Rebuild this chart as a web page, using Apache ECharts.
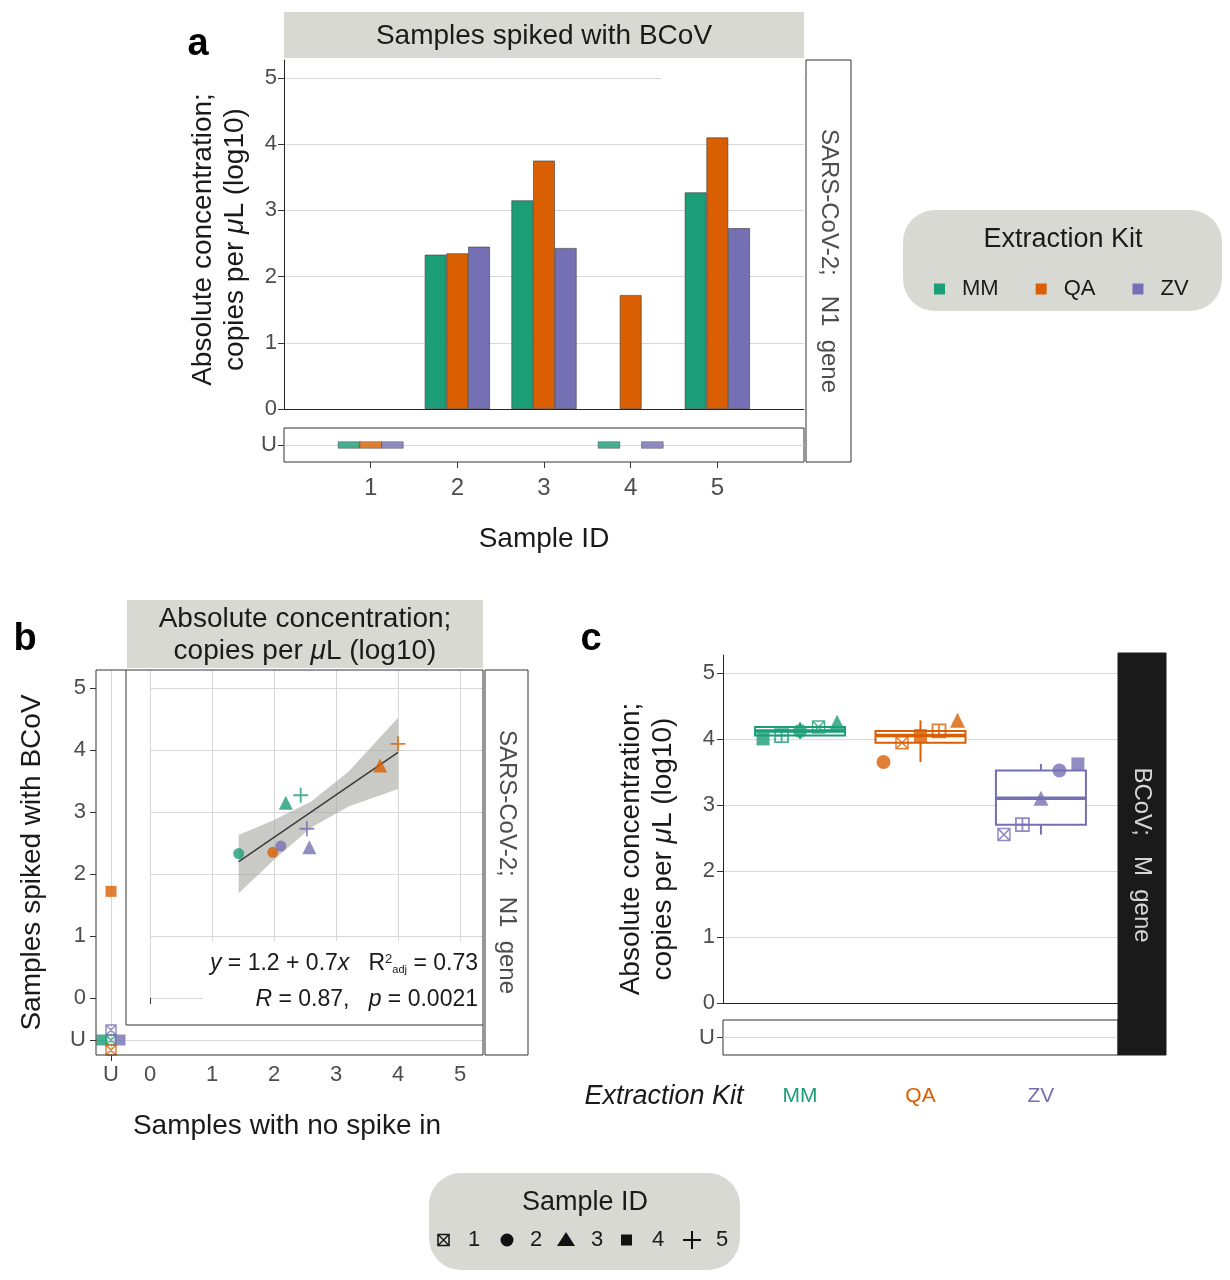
<!DOCTYPE html>
<html>
<head>
<meta charset="utf-8">
<script src="https://cdn.jsdelivr.net/npm/echarts@6.0.0/dist/echarts.min.js"></script>
<style>
html,body{margin:0;padding:0;background:#fff;}
#chart{width:1230px;height:1280px;}
</style>
</head>
<body>
<div id="chart"></div>
<script>
// ---------------- data ----------------
const samples = ['1', '2', '3', '4', '5'];
const kits = ['MM', 'QA', 'ZV'];
const yTicks = [0, 1, 2, 3, 4, 5];
// SARS-CoV-2 N1 gene, log10 copies/uL ('U' = undetected)
const spikedMM = ['U', 2.33, 3.15, 'U', 3.27];
const spikedQA = ['U', 2.35, 3.75, 1.72, 4.10];
const spikedZV = ['U', 2.45, 2.43, 'U', 2.73];
const nospikeMM = ['U', 1.43, 2.19, 'U', 2.43];
const nospikeQA = ['U', 1.98, 3.71, 'U', 4.00];
const nospikeZV = ['U', 2.11, 2.57, 'U', 2.53];
// regression line and confidence band
const fitX = [1.43, 4.00];
const fitY = [2.20, 3.96];
const bandX = [1.43, 2.00, 2.60, 3.20, 4.00];
const bandLo = [1.69, 2.23, 2.75, 3.09, 3.37];
const bandHi = [2.63, 2.87, 3.17, 3.65, 4.52];
// BCoV M gene, spiked samples
const bcovMM = [4.18, 4.12, 4.25, 4.00, 4.05];
const bcovQA = [3.94, 3.65, 4.28, 4.05, 4.12];
const bcovZV = [2.55, 3.52, 3.10, 3.62, 2.70];

const spiked = [spikedMM, spikedQA, spikedZV];
const nospike = [nospikeMM, nospikeQA, nospikeZV];
const bcov = [bcovMM, bcovQA, bcovZV];

// ---------------- styles ----------------
const FONT = '"Liberation Sans", Arial, Helvetica, sans-serif';
const kitColors = ['#1b9e77', '#d95f02', '#7570b3'];
const STRIP = '#d9d9d4';
const GRID = '#d8d8d8';
const TICKC = '#333333';
const LABC = '#4d4d4d';
const P_CROSSBOX = 'path://M0,0L10,0L10,10L0,10ZM0,0L10,10M10,0L0,10';
const P_BOXPLUS = 'path://M0,0L10,0L10,10L0,10ZM5,0L5,10M0,5L10,5';
const P_PLUS = 'path://M5,0L5,10M0,5L10,5';
const sizeB = {'1': 10, '2': 11, '3': 14, '4': 11, '5': 15};
const sizeC = {'1': 12, '2': 14, '3': 15, '4': 13, '5': 13};
function symStyle(s, color, variant, sizes) {
  const base = {symbolSize: sizes[s]};
  if (s === '1') return Object.assign(base, {symbol: P_CROSSBOX, itemStyle: {color: 'rgba(255,255,255,0)', borderColor: color, borderWidth: 1.5}});
  if (s === '2') return Object.assign(base, {symbol: 'circle', itemStyle: {color: color}});
  if (s === '3') return Object.assign(base, {symbol: 'triangle', itemStyle: {color: color}});
  if (s === '4') return Object.assign(base, {symbol: 'rect', itemStyle: {color: color}});
  return Object.assign(base, {symbol: variant === 'box' ? P_BOXPLUS : P_PLUS, itemStyle: {color: 'rgba(255,255,255,0)', borderColor: color, borderWidth: 1.8}});
}
// jitter of the undetected/undetected points in panel b corner
const cornerJitter = {'MM1': [0, 0], 'QA1': [0, 10], 'ZV1': [0, -10], 'MM4': [-9, 0], 'QA4': [0, 0], 'ZV4': [9, 0]};
const barW = 21.7;
const dodgeC = 18.5;

function ML(data) {
  return {silent: true, symbol: ['none', 'none'], label: {show: false}, animation: false, z: 1,
    lineStyle: {color: GRID, width: 1, type: 'solid', opacity: 1}, emphasis: {disabled: true}, data: data};
}
const tickStyle = {show: true, length: 6, lineStyle: {color: TICKC, width: 1}};
const labStyle = {fontSize: 22, color: LABC, fontFamily: FONT};
const titleRich = {i: {fontStyle: 'italic', fontSize: 28, fontFamily: FONT, color: '#1a1a1a'}};

// ---------------- grids ----------------
const grids = [
  {left: 284, top: 60, width: 520, height: 349},                 // 0 a main
  {left: 284, top: 428, width: 520, height: 34, show: true, borderColor: '#333', borderWidth: 1, backgroundColor: 'rgba(0,0,0,0)'}, // 1 a U row
  {left: 150, top: 670, width: 333, height: 328},                // 2 b main
  {left: 96, top: 670, width: 30, height: 355},                  // 3 b U column
  {left: 96, top: 1025, width: 30, height: 30},                  // 4 b corner
  {left: 126, top: 1025, width: 357, height: 30},                // 5 b U row
  {left: 723, top: 655, width: 395, height: 348},                // 6 c main
  {left: 723, top: 1020, width: 395, height: 35, show: true, borderColor: '#333', borderWidth: 1, backgroundColor: 'rgba(0,0,0,0)'} // 7 c U row
].map(g => Object.assign({outerBoundsMode: 'none', containLabel: false}, g));

const xAxes = [
  {gridIndex: 0, type: 'value', min: 0, max: 6, axisLine: {show: true, onZero: false, lineStyle: {color: '#222', width: 1}},
    axisTick: {show: false}, axisLabel: {show: false}, splitLine: {show: false}},
  {gridIndex: 1, type: 'value', min: 0, max: 6, axisLine: {show: false},
    axisTick: Object.assign({}, tickStyle, {customValues: samples.map(Number)}),
    axisLabel: {customValues: samples.map(Number), fontSize: 24, color: LABC, fontFamily: FONT, margin: 14},
    splitLine: {show: false},
    name: 'Sample ID', nameLocation: 'middle', nameGap: 63, nameTextStyle: {fontSize: 28, color: '#1a1a1a', fontFamily: FONT}},
  {gridIndex: 2, type: 'value', min: 0, max: 5.37, offset: 57, axisLine: {show: false},
    axisTick: Object.assign({}, tickStyle, {customValues: yTicks}),
    axisLabel: Object.assign({customValues: yTicks, margin: 9}, labStyle),
    splitLine: {show: true, lineStyle: {color: GRID, width: 1}},
    name: 'Samples with no spike in', nameLocation: 'middle', nameGap: 57,
    nameTextStyle: {fontSize: 28, color: '#1a1a1a', fontFamily: FONT, padding: [0, 59, 0, 0]}},
  {gridIndex: 3, type: 'category', data: ['U'], show: false},
  {gridIndex: 4, type: 'category', data: ['U'], axisLine: {show: false},
    axisTick: Object.assign({alignWithLabel: true}, tickStyle), axisLabel: Object.assign({margin: 9}, labStyle)},
  {gridIndex: 5, type: 'value', min: 0, max: 5.37, show: false},
  {gridIndex: 6, type: 'value', min: 0.36, max: 3.64, axisLine: {show: true, onZero: false, lineStyle: {color: '#222', width: 1}},
    axisTick: {show: false}, axisLabel: {show: false}, splitLine: {show: false}},
  {gridIndex: 7, type: 'value', min: 0.36, max: 3.64, axisLine: {show: false}, axisTick: {show: false, customValues: [1, 2, 3]},
    splitLine: {show: false},
    axisLabel: {customValues: [1, 2, 3], margin: 31, fontSize: 21, fontFamily: FONT,
      formatter: v => '{k' + v + '|' + kits[v - 1] + '}',
      rich: {k1: {color: kitColors[0], fontSize: 21, fontFamily: FONT}, k2: {color: kitColors[1], fontSize: 21, fontFamily: FONT}, k3: {color: kitColors[2], fontSize: 21, fontFamily: FONT}}}}
];
const yAxes = [
  {gridIndex: 0, type: 'value', min: 0, max: 5.27, axisLine: {show: true, lineStyle: {color: '#222', width: 1}},
    axisTick: Object.assign({}, tickStyle, {customValues: yTicks}),
    axisLabel: Object.assign({customValues: yTicks, margin: 7}, labStyle),
    splitLine: {show: true, lineStyle: {color: GRID, width: 1}},
    name: 'Absolute concentration;\ncopies per {i|μ}L (log10)', nameLocation: 'middle', nameGap: 33,
    nameTextStyle: {fontSize: 28, lineHeight: 32, color: '#1a1a1a', fontFamily: FONT, rich: titleRich, padding: [0, 10, 0, 0]}},
  {gridIndex: 1, type: 'category', data: ['U'], axisLine: {show: false},
    axisTick: Object.assign({alignWithLabel: true}, tickStyle), axisLabel: Object.assign({margin: 7}, labStyle)},
  {gridIndex: 2, type: 'value', min: 0, max: 5.29, axisLine: {show: false}, axisTick: {show: false, customValues: yTicks},
    axisLabel: {show: false}, splitLine: {show: true, lineStyle: {color: GRID, width: 1}}},
  {gridIndex: 3, type: 'value', min: -0.435, max: 5.29, axisLine: {show: false},
    axisTick: Object.assign({}, tickStyle, {customValues: yTicks}),
    axisLabel: Object.assign({customValues: yTicks, margin: 10}, labStyle),
    splitLine: {show: false},
    name: 'Samples spiked with BCoV', nameLocation: 'middle', nameGap: 50,
    nameTextStyle: {fontSize: 28, color: '#1a1a1a', fontFamily: FONT, padding: [0, 30, 0, 0]}},
  {gridIndex: 4, type: 'category', data: ['U'], axisLine: {show: false},
    axisTick: Object.assign({alignWithLabel: true}, tickStyle), axisLabel: Object.assign({margin: 10}, labStyle)},
  {gridIndex: 5, type: 'category', data: ['U'], show: false},
  {gridIndex: 6, type: 'value', min: 0, max: 5.27, axisLine: {show: true, lineStyle: {color: '#222', width: 1}},
    axisTick: Object.assign({}, tickStyle, {customValues: yTicks}),
    axisLabel: Object.assign({customValues: yTicks, margin: 8}, labStyle),
    splitLine: {show: true, lineStyle: {color: GRID, width: 1}},
    name: 'Absolute concentration;\ncopies per {i|μ}L (log10)', nameLocation: 'middle', nameGap: 44,
    nameTextStyle: {fontSize: 28, lineHeight: 32, color: '#1a1a1a', fontFamily: FONT, rich: titleRich, padding: [0, 40, 0, 0]}},
  {gridIndex: 7, type: 'category', data: ['U'], axisLine: {show: false},
    axisTick: Object.assign({alignWithLabel: true}, tickStyle), axisLabel: Object.assign({margin: 8}, labStyle)}
];

// ---------------- series ----------------
const series = [];
// panel a: bars for detected values
kits.forEach((k, ki) => {
  series.push({name: k, type: 'bar', xAxisIndex: 0, yAxisIndex: 0, barWidth: barW, barGap: '0%', z: 3,
    itemStyle: {color: kitColors[ki], borderColor: '#3a3a3a', borderWidth: 0.6},
    data: samples.map((s, i) => spiked[ki][i] === 'U' ? null : [Number(s), spiked[ki][i]]).filter(d => d)});
});
// panel a: undetected row
series.push({type: 'scatter', xAxisIndex: 1, yAxisIndex: 1, data: [], silent: true, z: 1, markLine: ML([{yAxis: 'U'}])});
kits.forEach((k, ki) => {
  series.push({name: k, type: 'scatter', xAxisIndex: 1, yAxisIndex: 1, symbol: 'rect', symbolSize: [barW, 6.5],
    symbolOffset: [(ki - 1) * barW, 0], z: 3,
    itemStyle: {color: kitColors[ki], borderColor: '#444', borderWidth: 0.5},
    data: samples.map((s, i) => spiked[ki][i] === 'U' ? [Number(s), 'U'] : null).filter(d => d)});
});
// panel b: confidence band + fit line
series.push({type: 'custom', xAxisIndex: 2, yAxisIndex: 2, silent: true, z: 2,
  data: bandX.map((x, i) => [x, bandLo[i], bandHi[i]]), encode: {x: 0, y: [1, 2]},
  renderItem: (params, api) => {
    if (params.dataIndex !== 0) return null;
    const pts = bandX.map((x, i) => api.coord([x, bandHi[i]]));
    for (let i = bandX.length - 1; i >= 0; i--) pts.push(api.coord([bandX[i], bandLo[i]]));
    return {type: 'polygon', shape: {points: pts}, style: {fill: 'rgba(165,165,160,0.6)'}};
  }});
series.push({type: 'line', xAxisIndex: 2, yAxisIndex: 2, silent: true, z: 3, symbol: 'none',
  lineStyle: {color: '#3a3a3a', width: 1.5}, data: fitX.map((x, i) => [x, fitY[i]])});
// panel b: gridlines for U rows/columns
series.push({type: 'scatter', xAxisIndex: 3, yAxisIndex: 3, data: [], silent: true, z: 1, markLine: ML([{xAxis: 'U'}])});
series.push({type: 'scatter', xAxisIndex: 4, yAxisIndex: 4, data: [], silent: true, z: 1, markLine: ML([{xAxis: 'U'}, {yAxis: 'U'}])});
series.push({type: 'scatter', xAxisIndex: 5, yAxisIndex: 5, data: [], silent: true, z: 1, markLine: ML([{yAxis: 'U'}])});
// panel b: points
kits.forEach((k, ki) => {
  const main = [], col = [], corner = [], row = [];
  samples.forEach((s, i) => {
    const x = nospike[ki][i], y = spiked[ki][i];
    const st = symStyle(s, kitColors[ki], 'plain', sizeB);
    if (x !== 'U' && y !== 'U') main.push(Object.assign({value: [x, y]}, st));
    else if (x === 'U' && y !== 'U') col.push(Object.assign({value: ['U', y]}, st));
    else if (x === 'U' && y === 'U') corner.push(Object.assign({value: ['U', 'U'], symbolOffset: cornerJitter[k + s] || [0, 0]}, st));
    else row.push(Object.assign({value: [x, 'U']}, st));
  });
  series.push({name: k, type: 'scatter', xAxisIndex: 2, yAxisIndex: 2, z: 4, data: main});
  series.push({name: k, type: 'scatter', xAxisIndex: 3, yAxisIndex: 3, z: 4, data: col});
  series.push({name: k, type: 'scatter', xAxisIndex: 4, yAxisIndex: 4, z: 4, data: corner});
  series.push({name: k, type: 'scatter', xAxisIndex: 5, yAxisIndex: 5, z: 4, data: row});
});
// panel c: boxplots (quartiles computed from the kit values)
function quant(sorted, p) {
  const h = (sorted.length - 1) * p, lo = Math.floor(h), hi = Math.ceil(h);
  return sorted[lo] + (sorted[hi] - sorted[lo]) * (h - lo);
}
const boxData = bcov.map((vals, ki) => {
  const s = vals.slice().sort((a, b) => a - b);
  return [ki + 1, s[0], quant(s, 0.25), quant(s, 0.5), quant(s, 0.75), s[s.length - 1]];
});
series.push({type: 'custom', xAxisIndex: 6, yAxisIndex: 6, z: 2, silent: true, data: boxData,
  encode: {x: 0, y: [1, 2, 3, 4, 5]},
  renderItem: (params, api) => {
    const x = api.value(0);
    const c = kitColors[params.dataIndex];
    const pMin = api.coord([x, api.value(1)]), pQ1 = api.coord([x, api.value(2)]), pMd = api.coord([x, api.value(3)]);
    const pQ3 = api.coord([x, api.value(4)]), pMax = api.coord([x, api.value(5)]);
    const hw = 45;
    return {type: 'group', children: [
      {type: 'line', shape: {x1: pMin[0], y1: pMin[1], x2: pQ1[0], y2: pQ1[1]}, style: {stroke: c, lineWidth: 2}},
      {type: 'line', shape: {x1: pQ3[0], y1: pQ3[1], x2: pMax[0], y2: pMax[1]}, style: {stroke: c, lineWidth: 2}},
      {type: 'rect', shape: {x: pQ1[0] - hw, y: pQ3[1], width: 2 * hw, height: pQ1[1] - pQ3[1]}, style: {fill: '#fff', stroke: c, lineWidth: 2}},
      {type: 'line', shape: {x1: pMd[0] - hw, y1: pMd[1], x2: pMd[0] + hw, y2: pMd[1]}, style: {stroke: c, lineWidth: 3.5}}
    ]};
  }});
kits.forEach((k, ki) => {
  const vals = bcov[ki];
  const order = vals.map((v, i) => i).sort((a, b) => vals[a] - vals[b]);
  series.push({name: k, type: 'scatter', xAxisIndex: 6, yAxisIndex: 6, z: 4,
    data: samples.map((s, i) => Object.assign({value: [ki + 1, vals[i]], symbolOffset: [(order.indexOf(i) - 2) * dodgeC, 0]},
      symStyle(s, kitColors[ki], 'box', sizeC)))});
});
series.push({type: 'scatter', xAxisIndex: 7, yAxisIndex: 7, data: [], silent: true, z: 1, markLine: ML([{yAxis: 'U'}])});

// ---------------- decorations ----------------
function zOf(o, d) { return (o && o.z != null) ? o.z : d; }
function T(x, y, text, o) {
  o = o || {};
  return {type: 'text', x: x, y: y, rotation: o.rotation || 0, z: zOf(o, 20), silent: true,
    style: Object.assign({text: text, fill: o.fill || '#1a1a1a', fontSize: o.fontSize || 22, fontFamily: FONT,
      fontWeight: o.fontWeight || 'normal', fontStyle: o.fontStyle || 'normal',
      align: o.align || 'center', textAlign: o.align || 'center', verticalAlign: 'middle', textVerticalAlign: 'middle'},
      o.extra || {})};
}
function R(x, y, w, h, fill, stroke, o) {
  o = o || {};
  return {type: 'rect', z: zOf(o, 10), silent: true, shape: {x: x, y: y, width: w, height: h, r: o.r || 0},
    style: {fill: fill, stroke: stroke || null, lineWidth: 1}};
}
function L(x1, y1, x2, y2, o) {
  o = o || {};
  return {type: 'line', z: zOf(o, 10), silent: true, shape: {x1: x1, y1: y1, x2: x2, y2: y2},
    style: {stroke: o.stroke || '#333', lineWidth: o.lw || 1}};
}
const g = [];
// panel labels
g.push(T(198, 45, 'a', {fontSize: 38, fontWeight: 'bold', fill: '#000'}));
g.push(T(25, 640, 'b', {fontSize: 38, fontWeight: 'bold', fill: '#000'}));
g.push(T(591, 640, 'c', {fontSize: 38, fontWeight: 'bold', fill: '#000'}));
// panel a strips
g.push(R(284, 12, 520, 46, STRIP));
g.push(T(544, 36, 'Samples spiked with BCoV', {fontSize: 28}));
g.push(R(806, 60, 45, 402, '#fff', '#333'));
g.push(T(829, 261, 'SARS-CoV-2;   N1  gene', {fontSize: 24, fill: LABC, rotation: -Math.PI / 2}));
g.push(R(661, 74, 142, 8, '#fff', null, {z: 5}));
// kit legend box (items are the chart legend)
g.push(R(903, 210, 319, 101, STRIP, null, {r: 32, z: 0}));
g.push(T(1063, 240, 'Extraction Kit', {fontSize: 27}));
// panel b decorations
g.push(R(127, 600, 356, 68, STRIP));
g.push(T(305, 635, 'Absolute concentration;\ncopies per {i|μ}L (log10)', {fontSize: 28,
  extra: {lineHeight: 32, rich: {i: {fontStyle: 'italic', fontSize: 28, fontFamily: FONT, fill: '#1a1a1a'}}}}));
g.push({type: 'rect', z: 12, silent: true, shape: {x: 96, y: 670, width: 387, height: 385}, style: {fill: null, stroke: '#333', lineWidth: 1}});
g.push(L(126, 670, 126, 1025, {z: 12}));
g.push(L(126, 1025, 483, 1025, {z: 12}));
g.push(R(485, 670, 43, 385, '#fff', '#333'));
g.push(T(507, 862, 'SARS-CoV-2;   N1  gene', {fontSize: 24, fill: LABC, rotation: -Math.PI / 2}));
g.push(R(203, 941, 279, 82, '#fff', null, {z: 5}));
const annRich = {
  i: {fontStyle: 'italic', fontSize: 23, fontFamily: FONT, fill: '#1a1a1a'},
  sup: {fontSize: 13, fontFamily: FONT, fill: '#1a1a1a', verticalAlign: 'top', lineHeight: 14},
  sub: {fontSize: 11, fontFamily: FONT, fill: '#1a1a1a', verticalAlign: 'bottom', lineHeight: 12}
};
g.push(T(478, 964, '{i|y} = 1.2 + 0.7{i|x}   R{sup|2}{sub|adj} = 0.73', {align: 'right', fontSize: 23, extra: {rich: annRich}}));
g.push(T(478, 1000, '{i|R} = 0.87,   {i|p} = 0.0021', {align: 'right', fontSize: 23, extra: {rich: annRich}}));
// panel c decorations
g.push(R(1118, 653, 48, 402, '#1a1a1a', '#1a1a1a'));
g.push(T(1142, 855, 'BCoV;   M  gene', {fontSize: 24, fill: '#d6d6d6', rotation: -Math.PI / 2}));
g.push(T(664, 1096, 'Extraction Kit', {fontSize: 27, fontStyle: 'italic'}));
// sample ID legend
g.push(R(429, 1173, 311, 97, STRIP, null, {r: 32, z: 0}));
g.push(T(585, 1203, 'Sample ID', {fontSize: 27}));
const ly = 1240;
g.push({type: 'rect', z: 20, silent: true, shape: {x: 438, y: ly - 5.5, width: 11, height: 11}, style: {fill: null, stroke: '#111', lineWidth: 1.5}});
g.push(L(438, ly - 5.5, 449, ly + 5.5, {z: 20, stroke: '#111', lw: 1.3}));
g.push(L(449, ly - 5.5, 438, ly + 5.5, {z: 20, stroke: '#111', lw: 1.3}));
g.push(T(474, ly, '1', {fontSize: 22}));
g.push({type: 'circle', z: 20, silent: true, shape: {cx: 507, cy: ly, r: 6.5}, style: {fill: '#111'}});
g.push(T(536, ly, '2', {fontSize: 22}));
g.push({type: 'polygon', z: 20, silent: true, shape: {points: [[566, ly - 8], [575, ly + 6], [557, ly + 6]]}, style: {fill: '#111'}});
g.push(T(597, ly, '3', {fontSize: 22}));
g.push({type: 'rect', z: 20, silent: true, shape: {x: 621, y: ly - 5.5, width: 11, height: 11}, style: {fill: '#111'}});
g.push(T(658, ly, '4', {fontSize: 22}));
g.push(L(683, ly, 701, ly, {z: 20, stroke: '#111', lw: 2}));
g.push(L(692, ly - 9, 692, ly + 9, {z: 20, stroke: '#111', lw: 2}));
g.push(T(722, ly, '5', {fontSize: 22}));

const option = {
  animation: false,
  backgroundColor: '#ffffff',
  textStyle: {fontFamily: FONT},
  grid: grids,
  xAxis: xAxes,
  yAxis: yAxes,
  legend: {left: 929, top: 273, orient: 'horizontal', itemWidth: 11, itemHeight: 11, itemGap: 37, z: 30,
    itemStyle: {borderWidth: 0}, selectedMode: false,
    textStyle: {fontSize: 22, color: '#1a1a1a', fontFamily: FONT, padding: [0, 0, 0, 12]},
    data: kits.map(k => ({name: k, icon: 'rect'}))},
  series: series,
  graphic: {elements: g}
};
const chart = echarts.init(document.getElementById('chart'));
chart.setOption(option);
</script>
</body>
</html>
